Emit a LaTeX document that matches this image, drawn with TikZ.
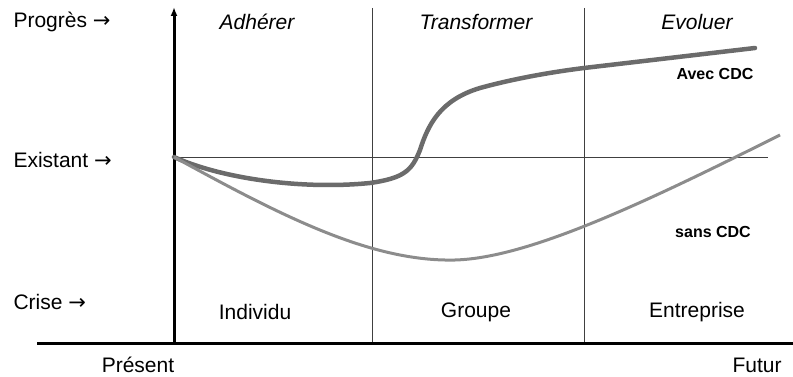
\documentclass[tikz,border=0pt]{standalone}
\usepackage{fontspec}
\setmainfont{Liberation Sans}
\newfontfamily\arrowfont{DejaVu Sans}
\usetikzlibrary{arrows.meta}

\begin{document}
\begin{tikzpicture}[x=1pt,y=-1pt,
  lbl/.style={font=\fontsize{21}{24}\selectfont},
  phase/.style={font=\fontsize{21}{24}\selectfont\itshape},
  curvelbl/.style={font=\fontsize{16}{19}\selectfont\bfseries},
  axis/.style={line width=3pt},
  divider/.style={line width=1pt,black!75}]
\useasboundingbox (0,0) rectangle (793,377);
% axes
\coordinate (o) at (174,343);
\coordinate (ytop) at (174,7);
\coordinate (xleft) at (37,343);
\coordinate (xright) at (793,343);
\coordinate (d1top) at (372,8);
\coordinate (d1bot) at (372,343);
\coordinate (d2top) at (584,8);
\coordinate (d2bot) at (584,343);
\coordinate (e0) at (174,158);
\coordinate (e1) at (768,158);
\draw[divider] (d1top) -- (d1bot);
\draw[divider] (d2top) -- (d2bot);
\draw[divider] (e0) -- (e1);
\draw[axis] (xleft) -- (xright);
\draw[axis,-{Latex[length=9pt,width=7pt]}] (o) -- (ytop);
% levels
\node[lbl,anchor=west] (progres) at (10,22) {Progrès {\arrowfont →}};
\node[lbl,anchor=west] (existant) at (10,160) {Existant {\arrowfont →}};
\node[lbl,anchor=west] (crise) at (10,302) {Crise {\arrowfont →}};
\node[lbl,inner sep=0pt] (present) at (138,365) {Présent};
\node[lbl,inner sep=0pt] (futur) at (757,365) {Futur};
% phases
\node[phase] (adherer) at (257,22) {Adhérer};
\node[phase] (transformer) at (476,22) {Transformer};
\node[phase] (evoluer) at (697,22) {Evoluer};
\node[lbl] (individu) at (255,312) {Individu};
\node[lbl] (groupe) at (476,312) {Groupe};
\node[lbl] (entreprise) at (697,312) {Entreprise};
% curves
\draw[line width=4.5pt,black!58,line cap=round] (174,157)
  .. controls (220,178) and (300,190) .. (370,183)
  .. controls (405,178) and (412,170) .. (420,150)
  .. controls (428,125) and (440,100) .. (480,88)
  .. controls (520,77) and (560,71) .. (584,68) -- (755,48);
\draw[line width=3pt,black!45] (174,157)
  .. controls (280,215) and (370,262) .. (455,260)
  .. controls (530,258) and (650,200) .. (780,135);
\node[curvelbl] (avec) at (715,74) {Avec CDC};
\node[curvelbl] (sans) at (713,232) {sans CDC};
\end{tikzpicture}
\end{document}
